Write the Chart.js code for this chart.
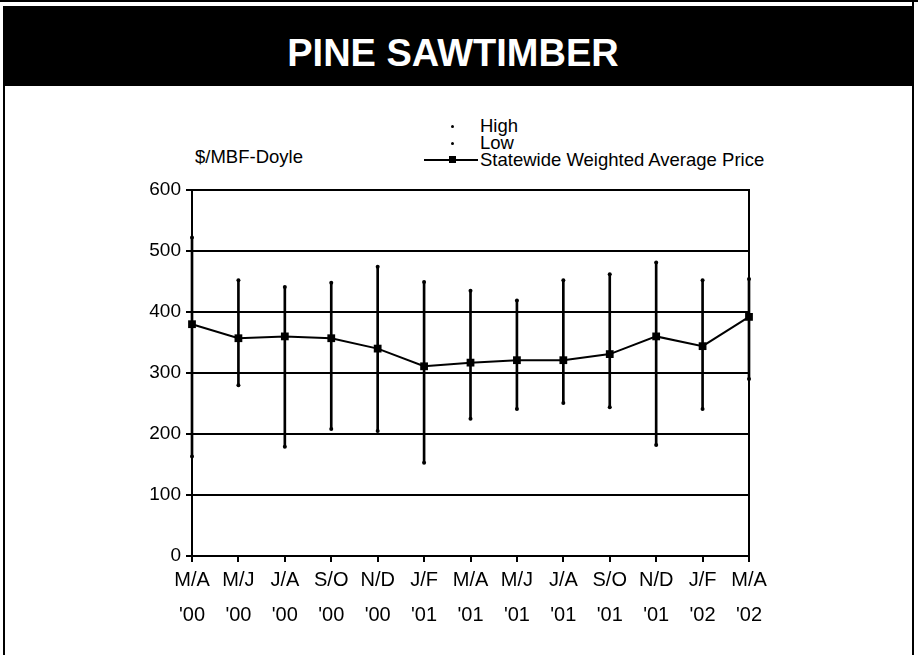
<!DOCTYPE html>
<html>
<head>
<meta charset="utf-8">
<script src="https://cdn.jsdelivr.net/npm/chart.js@4.4.1/dist/chart.umd.min.js"></script>
<style>
  html, body { margin: 0; padding: 0; background: #fff; }
  body { width: 918px; height: 655px; position: relative; overflow: hidden; font-family: "Liberation Sans", Arial, sans-serif; }
  #topline { position: absolute; left: 0; top: 0; width: 918px; height: 2px; background: #000; }
  #bar { position: absolute; left: 3px; top: 6px; width: 911px; height: 80px; background: #000; }
  #lb { position: absolute; left: 3px; top: 6px; width: 2px; height: 649px; background: #000; }
  #rb { position: absolute; left: 912px; top: 0px; width: 2px; height: 655px; background: #000; }
  #title { position: absolute; left: 0; width: 906px; top: 33px; text-align: center; color: #fff; font-weight: bold; font-size: 38px; line-height: 40px; }
  #unit { position: absolute; left: 195px; top: 147px; font-size: 18.5px; line-height: 20px; color: #000; }
  .lg { position: absolute; left: 480px; font-size: 18.5px; line-height: 18px; color: #000; white-space: nowrap; }
  .dot { position: absolute; left: 451px; width: 3px; height: 3px; background: #000; border-radius: 50%; }
  #lgline { position: absolute; left: 424px; width: 54px; height: 2px; background: #000; }
  #lgsq { position: absolute; left: 449px; width: 7px; height: 7px; background: #000; }
  canvas { position: absolute; left: 0; top: 0; }
</style>
</head>
<body>
<div id="topline"></div>
<div id="bar"></div>
<div id="lb"></div>
<div id="rb"></div>
<div id="title">PINE SAWTIMBER</div>
<div id="unit">$/MBF-Doyle</div>
<div class="dot" style="top:125px"></div>
<div class="lg" style="top:117px">High</div>
<div class="dot" style="top:142px"></div>
<div class="lg" style="top:134px">Low</div>
<div id="lgline" style="top:159px"></div>
<div id="lgsq" style="top:156px"></div>
<div class="lg" style="top:151px">Statewide Weighted Average Price</div>
<canvas id="c" width="918" height="655"></canvas>
<script>
const categories = [["M/A","'00"],["M/J","'00"],["J/A","'00"],["S/O","'00"],["N/D","'00"],["J/F","'01"],["M/A","'01"],["M/J","'01"],["J/A","'01"],["S/O","'01"],["N/D","'01"],["J/F","'02"],["M/A","'02"]];
const highValues = [522, 452, 441, 448, 474, 449, 435, 419, 452, 462, 481, 452, 454];
const lowValues  = [163, 280, 179, 208, 205, 153, 225, 241, 251, 244, 182, 241, 290];
const avgValues  = [380, 357, 360, 357, 340, 311, 317, 321, 321, 331, 360, 344, 392];
const yTicks = [0, 100, 200, 300, 400, 500, 600];

const ranges = lowValues.map((l, i) => [l, highValues[i]]);

Chart.defaults.font.family = '"Liberation Sans", Arial, sans-serif';
Chart.defaults.color = '#000';

new Chart(document.getElementById('c'), {
  type: 'line',
  data: {
    labels: categories,
    datasets: [
      { type: 'bar', label: 'range', data: ranges, backgroundColor: '#000', barThickness: 2, order: 3, clip: false },
      { label: 'High', data: highValues, showLine: false, pointRadius: 2, pointBackgroundColor: '#000', pointBorderWidth: 0, order: 2, clip: false },
      { label: 'Low', data: lowValues, showLine: false, pointRadius: 2, pointBackgroundColor: '#000', pointBorderWidth: 0, order: 2, clip: false },
      { label: 'Statewide Weighted Average Price', data: avgValues, borderColor: '#000', borderWidth: 2, pointStyle: 'rect', pointRadius: 5.5, pointBackgroundColor: '#000', pointBorderWidth: 0, tension: 0, order: 1, clip: false }
    ]
  },
  options: {
    responsive: false,
    animation: false,
    events: [],
    layout: { padding: { left: 132, right: 169, top: 190, bottom: 0 } },
    plugins: { legend: { display: false }, tooltip: { enabled: false }, title: { display: false } },
    scales: {
      x: {
        type: 'category',
        offset: false,
        grid: { offset: false, drawOnChartArea: false, drawTicks: true, tickLength: 6, lineWidth: 2, color: '#000' },
        border: { display: true, color: '#000', width: 2 },
        ticks: { font: { size: 20, lineHeight: 1.75 }, padding: 1, maxRotation: 0, autoSkip: false, color: '#000' },
        afterFit: s => { s.height = 99; }
      },
      y: {
        min: 0, max: 600,
        afterBuildTicks: s => { s.ticks = yTicks.map(v => ({ value: v })); },
        grid: { color: '#000', lineWidth: 2, tickLength: 6, drawTicks: true },
        border: { display: true, color: '#000', width: 2 },
        ticks: { font: { size: 19 }, padding: 5, color: '#000' },
        afterFit: s => { s.width = 60; }
      },
      y2: {
        position: 'right', min: 0, max: 600,
        grid: { drawOnChartArea: false, drawTicks: false },
        border: { display: true, color: '#000', width: 2 },
        ticks: { display: false },
        afterFit: s => { s.width = 0; }
      }
    }
  }
});
</script>
</body>
</html>
